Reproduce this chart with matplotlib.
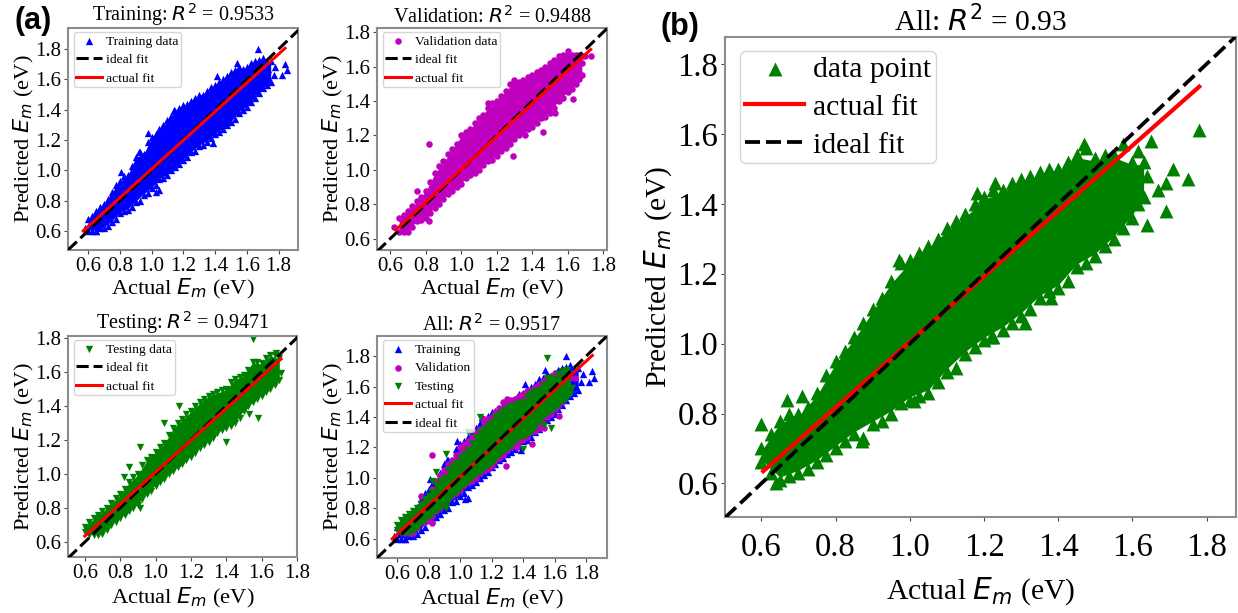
import matplotlib
matplotlib.use("Agg")
import matplotlib.pyplot as plt

plt.rcParams['font.family'] = ['Liberation Serif', 'DejaVu Sans']

W, H = 1238, 613
BLUE, PURPLE, GREEN = '#0000ff', '#bf00bf', '#008000'
GREY = '#8c8c8c'

# Training cloud
train_x = [.60, .65, .70, .75, .80, .85, .90, .95, 1.00, 1.05, 1.10, 1.15, 1.20, 1.25, 1.30, 1.35, 1.40, 1.45, 1.50, 1.55, 1.60, 1.65, 1.70, 1.75]
train_low = [.60, .60, .62, .66, .72, .74, .79, .84, .88, .94, .97, 1.02, 1.07, 1.12, 1.16, 1.19, 1.24, 1.27, 1.32, 1.38, 1.42, 1.48, 1.54, 1.58]
train_high = [.68, .73, .78, .86, .93, .97, 1.09, 1.11, 1.22, 1.27, 1.33, 1.39, 1.43, 1.46, 1.50, 1.52, 1.56, 1.60, 1.65, 1.68, 1.68, 1.72, 1.74, 1.72]
train_edge_x = [.625, .675, .725, .775, .825, .875, .925, .975, 1.025, 1.075, 1.125, 1.175, 1.225, 1.275, 1.325, 1.375, 1.425, 1.475, 1.525, 1.575, 1.625, 1.675, 1.725]
train_edge_low = [.60, .62, .63, .68, .73, .76, .80, .85, .90, .95, 1.00, 1.04, 1.09, 1.13, 1.17, 1.21, 1.25, 1.30, 1.34, 1.40, 1.45, 1.51, 1.56]
train_edge_high = [.70, .76, .81, .90, .96, 1.03, 1.12, 1.19, 1.24, 1.30, 1.36, 1.41, 1.44, 1.48, 1.50, 1.55, 1.58, 1.62, 1.66, 1.67, 1.71, 1.73, 1.70]
train_out_x = [.58, 1.84, 1.82, 1.78, 1.77, 1.85, 1.05, 1.73, .81, .98, .92, 1.03, 1.14, 1.41, 1.54, 1.67, 1.39, .84, .65]
train_out_y = [.62, 1.70, 1.63, 1.68, 1.63, 1.66, .87, 1.67, .99, 1.245, 1.12, .86, 1.40, 1.62, 1.71, 1.80, 1.18, .83, .60]

# Validation cloud
val_x = [.65, .70, .75, .80, .85, .90, .95, 1.00, 1.05, 1.10, 1.15, 1.20, 1.25, 1.30, 1.35, 1.40, 1.45, 1.50, 1.55, 1.60, 1.65, 1.68]
val_low = [.64, .64, .70, .72, .78, .83, .88, .92, .97, 1.00, 1.05, 1.08, 1.13, 1.18, 1.22, 1.25, 1.30, 1.33, 1.40, 1.45, 1.50, 1.55]
val_high = [.72, .76, .82, .88, .98, 1.05, 1.12, 1.20, 1.24, 1.30, 1.36, 1.40, 1.46, 1.52, 1.52, 1.55, 1.58, 1.62, 1.66, 1.69, 1.67, 1.66]
val_edge_x = [.675, .725, .775, .825, .875, .925, .975, 1.025, 1.075, 1.125, 1.175, 1.225, 1.275, 1.325, 1.375, 1.425, 1.475, 1.525, 1.575, 1.625, 1.665]
val_edge_low = [.64, .67, .71, .75, .80, .86, .90, .95, .98, 1.03, 1.06, 1.11, 1.15, 1.20, 1.24, 1.27, 1.31, 1.36, 1.42, 1.47, 1.53]
val_edge_high = [.74, .79, .84, .93, 1.02, 1.09, 1.15, 1.22, 1.27, 1.32, 1.39, 1.43, 1.50, 1.51, 1.54, 1.57, 1.60, 1.64, 1.67, 1.67, 1.67]
val_out_x = [.82, .75, 1.15, 1.46, 1.36, 1.70, 1.73, 1.68, 1.63, 1.53, .62, 1.29, .82]
val_out_y = [1.15, .88, 1.39, 1.22, 1.20, 1.66, 1.66, 1.62, 1.41, 1.33, .67, 1.08, .70]

# Testing cloud
test_x = [.60, .65, .70, .75, .80, .85, .90, .95, 1.00, 1.05, 1.10, 1.15, 1.20, 1.25, 1.30, 1.35, 1.40, 1.45, 1.50, 1.55, 1.60, 1.65, 1.70]
test_low = [.66, .64, .65, .70, .74, .78, .82, .88, .93, .97, 1.02, 1.06, 1.10, 1.15, 1.19, 1.24, 1.27, 1.30, 1.37, 1.42, 1.46, 1.50, 1.55]
test_high = [.69, .74, .78, .83, .88, .95, 1.00, 1.08, 1.13, 1.18, 1.27, 1.32, 1.37, 1.42, 1.46, 1.48, 1.50, 1.56, 1.58, 1.66, 1.65, 1.70, 1.68]
test_edge_x = [.625, .675, .725, .775, .825, .875, .925, .975, 1.025, 1.075, 1.125, 1.175, 1.225, 1.275, 1.325, 1.375, 1.425, 1.475, 1.525, 1.575, 1.625, 1.675]
test_edge_low = [.64, .64, .67, .72, .76, .80, .85, .90, .95, 1.00, 1.04, 1.08, 1.12, 1.17, 1.21, 1.26, 1.28, 1.33, 1.40, 1.44, 1.48, 1.52]
test_edge_high = [.72, .76, .80, .86, .91, .98, 1.05, 1.10, 1.16, 1.23, 1.30, 1.35, 1.40, 1.44, 1.47, 1.49, 1.54, 1.57, 1.61, 1.66, 1.68, 1.70]
test_out_x = [1.55, .91, .91, 1.13, 1.05, 1.58, 1.53, 1.40, 1.71, 1.68, .85, .82]
test_out_y = [1.79, 1.16, .80, 1.40, 1.30, 1.33, 1.35, 1.19, 1.59, 1.71, 1.04, .98]

# Panel (b) cloud
all_x = [.60, .65, .70, .75, .80, .85, .90, .95, 1.00, 1.05, 1.10, 1.15, 1.20, 1.25, 1.30, 1.35, 1.40, 1.45, 1.50, 1.55, 1.60, 1.63]
all_low = [.66, .61, .63, .66, .70, .74, .77, .80, .84, .86, .92, .97, 1.01, 1.04, 1.08, 1.13, 1.16, 1.22, 1.25, 1.30, 1.36, 1.42]
all_high = [.70, .78, .80, .86, .95, 1.02, 1.10, 1.18, 1.24, 1.28, 1.33, 1.37, 1.42, 1.44, 1.47, 1.49, 1.50, 1.54, 1.53, 1.54, 1.52, 1.52]
all_edge_x = [.625, .675, .725, .775, .825, .875, .925, .975, 1.025, 1.075, 1.125, 1.175, 1.225, 1.275, 1.325, 1.375, 1.425, 1.475, 1.525, 1.575, 1.615]
all_edge_low = [.63, .62, .64, .68, .72, .73, .78, .83, .85, .89, .93, .99, 1.02, 1.06, 1.10, 1.15, 1.18, 1.23, 1.28, 1.33, 1.40]
all_edge_high = [.74, .80, .82, .91, .98, 1.06, 1.13, 1.23, 1.26, 1.30, 1.35, 1.40, 1.44, 1.46, 1.48, 1.50, 1.52, 1.56, 1.54, 1.57, 1.55]
all_out_x = [.60, .67, .71, .97, 1.18, 1.23, 1.31, 1.38, 1.47, 1.65, 1.78, 1.75, 1.71, 1.69, 1.69, 1.67, 1.64, 1.64, .64, .87, 1.01, 1.22]
all_out_y = [.77, .84, .85, 1.24, 1.43, 1.46, 1.06, 1.13, 1.57, 1.58, 1.61, 1.47, 1.50, 1.46, 1.38, 1.44, 1.34, 1.48, .60, .72, .835, 1.02]

# Fit lines (x ends, y ends)
fit_train = ([.57, 1.84], [.60, 1.805])
fit_val = ([.63, 1.73], [.65, 1.70])
fit_test = ([.60, 1.71], [.635, 1.675])
fit_all = ([.605, 1.78], [.635, 1.735])

ticks = [.6, .8, 1.0, 1.2, 1.4, 1.6, 1.8]

fig = plt.figure(figsize=(W / 100, H / 100), dpi=100)


def make_ax(l, r, t, b, xlim, ylim, title, tick_fs, lab_fs, title_fs, xlab_pad=1, ylab_pad=-1, title_pad=3, xpad=2):
    ax = fig.add_axes([l / W, 1 - b / H, (r - l) / W, (b - t) / H])
    ax.set_xlim(*xlim)
    ax.set_ylim(*ylim)
    ax.set_xticks(ticks)
    ax.set_yticks(ticks)
    ax.set_xticklabels([f'{v:.1f}' for v in ticks])
    ax.set_yticklabels([f'{v:.1f}' for v in ticks])
    ax.tick_params(labelsize=tick_fs, length=3, width=0.8, color='#444444', pad=2)
    ax.tick_params(axis='x', pad=xpad)
    for s in ax.spines.values():
        s.set_color(GREY)
        s.set_linewidth(1.5)
    ax.set_xlabel(r'Actual $E_m$ (eV)', fontsize=lab_fs, labelpad=xlab_pad)
    ax.set_ylabel(r'Predicted $E_m$ (eV)', fontsize=lab_fs, labelpad=ylab_pad)
    ax.set_title(title, fontsize=title_fs, pad=title_pad)
    return ax


def cloud(ax, x, low, high, ex, elow, ehigh, ox, oy, color, marker, size, label, inset=0.005):
    ax.fill_between(x, [v + inset for v in low], [v - inset for v in high],
                    color=color, linewidth=0, zorder=2)
    ax.scatter(x + x + ex + ex + ox, low + high + elow + ehigh + oy, c=color, marker=marker, s=size,
               linewidths=0, label=label, zorder=2)


def ideal(ax, lim, lw=2.2):
    return ax.plot(lim, lim, color='k', ls=(0, (4, 1.6)), lw=lw, label='ideal fit', zorder=3)


def fit(ax, f, lw=2.2, z=4):
    return ax.plot(f[0], f[1], color='#ff0000', lw=lw, label='actual fit', zorder=z)


def leg(ax, order, x, y, fs, **kw):
    h, l = ax.get_legend_handles_labels()
    idx = [l.index(o) for o in order]
    opts = dict(loc='upper left', bbox_to_anchor=(x, y), borderaxespad=0, fontsize=fs,
                framealpha=0.8, labelspacing=0.45, handlelength=1.9, handletextpad=0.3,
                borderpad=0.2)
    opts.update(kw)
    return ax.legend([h[i] for i in idx], [l[i] for i in idx], **opts)


S = 28
TK, LB, TT, LG = 15, 16.2, 14.5, 9.7

# Training
ax = make_ax(68, 298, 28, 250, (.474, 1.922), (.474, 1.939), r'Training: $R^2$ = 0.9533', TK, LB, TT)
cloud(ax, train_x, train_low, train_high, train_edge_x, train_edge_low, train_edge_high, train_out_x, train_out_y, BLUE, '^', S, 'Training data')
ideal(ax, [.474, 1.93])
fit(ax, fit_train)
leg(ax, ['Training data', 'ideal fit', 'actual fit'], .025, .98, LG)

# Validation
ax = make_ax(377, 607, 28, 250, (.525, 1.822), (.534, 1.825), r'Validation: $R^2$ = 0.9488', TK, LB, TT)
cloud(ax, val_x, val_low, val_high, val_edge_x, val_edge_low, val_edge_high, val_out_x, val_out_y, PURPLE, 'o', S - 6, 'Validation data')
ideal(ax, [.525, 1.825])
fit(ax, fit_val)
leg(ax, ['Validation data', 'ideal fit', 'actual fit'], .025, .98, LG)

# Testing
ax = make_ax(68, 297, 336, 557, (.505, 1.80), (.512, 1.81), r'Testing: $R^2$ = 0.9471', TK, LB, TT, xlab_pad=2)
cloud(ax, test_x, test_low, test_high, test_edge_x, test_edge_low, test_edge_high, test_out_x, test_out_y, GREEN, 'v', S, 'Testing data')
ideal(ax, [.505, 1.81])
fit(ax, fit_test)
leg(ax, ['Testing data', 'ideal fit', 'actual fit'], .025, .98, LG)

# All (a)
ax = make_ax(377, 607, 336, 558, (.473, 1.933), (.473, 1.933), r'All: $R^2$ = 0.9517', TK, LB, TT, xlab_pad=2)
cloud(ax, train_x, train_low, train_high, train_edge_x, train_edge_low, train_edge_high, train_out_x, train_out_y, BLUE, '^', S, 'Training')
cloud(ax, val_x, val_low, val_high, val_edge_x, val_edge_low, val_edge_high, val_out_x, val_out_y, PURPLE, 'o', S - 6, 'Validation')
cloud(ax, test_x, test_low, test_high, test_edge_x, test_edge_low, test_edge_high, test_out_x, test_out_y, GREEN, 'v', S, 'Testing')
fit(ax, fit_train, z=3)
ideal(ax, [.473, 1.933])[0].set_zorder(4)
leg(ax, ['Training', 'Validation', 'Testing', 'actual fit', 'ideal fit'], .025, .98, LG)

# Panel (b)
ax = make_ax(725, 1236, 37, 517, (.502, 1.879), (.504, 1.877), r'All: $R^2$ = 0.93', 23.5, 21.4, 21.2,
             xlab_pad=9, ylab_pad=2, title_pad=3, xpad=8)
cloud(ax, all_x, all_low, all_high, all_edge_x, all_edge_low, all_edge_high, all_out_x, all_out_y, GREEN, '^', 100, 'data point', inset=0.008)
fit(ax, fit_all, lw=3, z=3)
ideal(ax, [.502, 1.879], lw=2.7)[0].set_zorder(4)
leg(ax, ['data point', 'actual fit', 'ideal fit'], .03, .97, 21.4, labelspacing=.38, handlelength=2.0, handletextpad=.3, borderpad=.15)

fig.text(14 / W, 1 - 21 / H, '(a)', fontsize=22, fontweight='bold', family='Liberation Sans', va='center')
fig.text(661 / W, 1 - 27 / H, '(b)', fontsize=22, fontweight='bold', family='Liberation Sans', va='center')

fig.savefig('out.png', dpi=100)
